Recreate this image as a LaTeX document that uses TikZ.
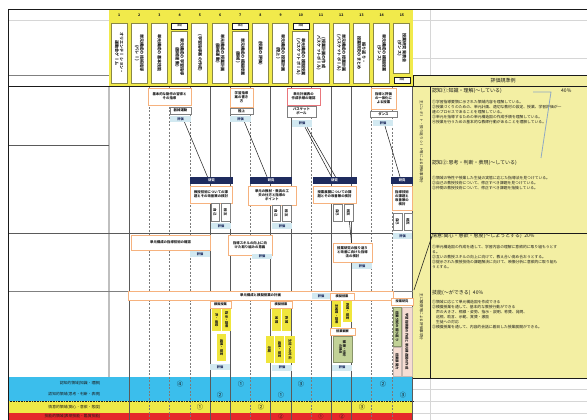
\documentclass[tikz,border=0pt]{standalone}
\usepackage{fontspec}
\setmainfont{Noto Sans CJK JP}
\newfontfamily\tatefont[Vertical=RotatedGlyphs]{Noto Sans CJK JP}
\usepackage{tikz}
\usetikzlibrary{positioning, calc}
\usepackage{xcolor}
\definecolor{hdryellow}{HTML}{F1EA4B}
\definecolor{hdrline}{HTML}{8A8845}
\definecolor{panelyellow}{HTML}{F3EFA3}
\definecolor{planorange}{HTML}{F6B27E}
\definecolor{planred}{HTML}{E9767C}
\definecolor{hyokablue}{HTML}{D2E9F1}
\definecolor{kenkyunavy}{HTML}{1E2B5E}
\definecolor{skillyellow}{HTML}{F0E63C}
\definecolor{obsgreen}{HTML}{C2D297}
\definecolor{reppink}{HTML}{F6DDD3}
\definecolor{bandcyan}{HTML}{3BBEEC}
\definecolor{bandyellow}{HTML}{EFE947}
\definecolor{bandred}{HTML}{E5282B}
\definecolor{gridgray}{HTML}{5A5A5A}
\definecolor{sheetgray}{HTML}{D6D6D6}
\definecolor{bracketblue}{HTML}{8FA8C4}
\definecolor{inkdark}{HTML}{1A1A1A}
\newcommand\fsz[2]{\fontsize{#1}{#2}\selectfont}

\begin{document}
\begin{tikzpicture}[
  x=1pt, y=-1pt,
  hdr/.style={
    draw=hdrline, fill=white, line width=0.9pt, rotate=-90,
    minimum height=16pt, inner sep=0.3pt, align=center,
    font=\tatefont\fsz{4.1}{4.8}\bfseries, text=inkdark
  },
  hnum/.style={font=\fsz{3.5}{4}\bfseries, text=inkdark},
  htag/.style={
    draw=inkdark, fill=white, line width=0.5pt,
    minimum width=16pt, minimum height=6pt, inner sep=0pt,
    font=\fsz{2.4}{2.6}
  },
  plan/.style={
    draw=planorange, fill=white, line width=0.7pt, inner sep=0.5pt,
    align=center, font=\fsz{3.4}{4.1}\bfseries, text=inkdark
  },
  task/.style={
    draw=gray, fill=white, line width=0.6pt, inner sep=0pt,
    align=center, font=\fsz{3.4}{3.9}\bfseries, text=inkdark
  },
  hyoka/.style={
    fill=hyokablue, minimum height=6pt, inner sep=0pt,
    font=\fsz{3.2}{3.2}\bfseries, text=kenkyunavy
  },
  kenkyu/.style={
    fill=kenkyunavy, minimum height=7pt, inner sep=0pt,
    font=\fsz{3.2}{3.2}\bfseries, text=white
  },
  pair/.style={
    draw=gray, fill=white, line width=0.6pt, rotate=-90, inner sep=0pt,
    align=center, font=\tatefont\fsz{3.4}{3.8}\bfseries, text=inkdark
  },
  mogi/.style={
    draw=planorange, fill=white, line width=0.7pt,
    minimum height=7pt, inner sep=0pt,
    font=\fsz{3.2}{3.2}\bfseries, text=inkdark
  },
  skill/.style={
    fill=skillyellow, rotate=-90, inner sep=0pt, align=center,
    font=\tatefont\fsz{3.3}{3.8}\bfseries, text=inkdark
  },
  obs/.style={
    fill=obsgreen, draw=obsgreen!70!black, line width=0.3pt, rotate=-90,
    inner sep=0pt, align=center,
    font=\tatefont\fsz{3.3}{3.8}\bfseries, text=inkdark
  },
  rep/.style={
    fill=reppink, draw=reppink!60!gray, line width=0.3pt, rotate=-90,
    inner sep=0pt, align=center,
    font=\tatefont\fsz{3.3}{3.8}\bfseries, text=inkdark
  },
  side/.style={rotate=-90, font=\tatefont\fsz{3.6}{4}, text=inkdark},
  lbl/.style={anchor=east, font=\fsz{3.8}{4}, text=inkdark},
  circ/.style={font=\fsz{6.2}{6.2}, text=inkdark, inner sep=0pt},
  crit/.style={anchor=west, inner sep=0pt, font=\fsz{5}{5}, text=inkdark},
  critbody/.style={
    anchor=north west, inner sep=0pt, align=left,
    font=\fsz{3.8}{4.9}, text=inkdark
  },
  lnk/.style={draw=inkdark, line width=0.5pt},
  solidline/.style={draw=gridgray, line width=0.5pt},
  dashline/.style={draw=gridgray!80, line width=0.5pt, dash pattern=on 2pt off 1.5pt},
  sheet/.style={draw=sheetgray, line width=0.5pt}
]
\useasboundingbox (0,0) rectangle (587,420);
\clip (0,0) rectangle (587,420);

\fill[white] (0,0) rectangle (587,420);
\fill[hdryellow] (109,9) rectangle (413,86);
\fill[panelyellow] (413,75) rectangle (587,378);
\fill[bandcyan] (8,377) rectangle (413,401);
\fill[bandyellow] (8,401) rectangle (413,413);
\fill[bandred] (8,413) rectangle (413,420);

\draw[sheet] (8,20) -- (109,20);
\draw[draw=gray, line width=0.8pt] (8,75) -- (109,75);
\draw[sheet] (430,9) -- (430,75);
\draw[sheet] (413,20) -- (587,20);
\draw[sheet] (413,58) -- (587,58);
\draw[sheet] (413,389) -- (587,389);
\draw[sheet] (413,401) -- (587,401);
\draw[sheet] (413,413) -- (587,413);
\draw[sheet] (430,378) -- (430,420);

\draw[solidline] (129.2,86) -- (129.2,420);
\draw[dashline] (149.4,86) -- (149.4,420);
\draw[dashline] (169.6,86) -- (169.6,420);
\draw[dashline] (189.8,86) -- (189.8,420);
\draw[solidline] (210,86) -- (210,420);
\draw[solidline] (230.2,86) -- (230.2,420);
\draw[dashline] (250.4,86) -- (250.4,420);
\draw[solidline] (270.6,86) -- (270.6,420);
\draw[solidline] (290.8,86) -- (290.8,420);
\draw[dashline] (311,86) -- (311,420);
\draw[solidline] (331.2,86) -- (331.2,420);
\draw[solidline] (351.4,86) -- (351.4,420);
\draw[dashline] (371.6,86) -- (371.6,420);
\draw[dashline] (391.8,86) -- (391.8,420);
\draw[solidline] (412.6,86) -- (412.6,420);
\draw[draw=gray!50, line width=1.2pt] (109,86) -- (109,377);

\draw[solidline] (8,145) -- (109,145);
\draw[solidline] (8,233) -- (413,233);
\draw[draw=gray, line width=0.5pt] (8,291) -- (413,291);
\draw[inkdark, densely dotted, line width=0.6pt] (8,401) -- (413,401);

\draw[inkdark, line width=0.6pt] (430,86) -- (430,378);
\draw[inkdark, line width=0.6pt] (430,233) -- (587,233);
\draw[inkdark, line width=0.6pt] (413,378) -- (587,378);
\draw[inkdark, line width=0.6pt] (413,75) rectangle (587,86);
\draw[inkdark, line width=0.8pt] (8,86) -- (587,86);
\draw[inkdark, line width=0.8pt] (8,9) -- (587,9);
\draw[inkdark, line width=0.8pt] (8,9) -- (8,420);

\node[hnum] (n1) at (119.1,15.5) {1};
\node[hnum] (n2) at (139.3,15.5) {2};
\node[hnum] (n3) at (159.5,15.5) {3};
\node[hnum] (n4) at (179.7,15.5) {4};
\node[hnum] (n5) at (199.9,15.5) {5};
\node[hnum] (n6) at (220.1,15.5) {6};
\node[hnum] (n7) at (240.3,15.5) {7};
\node[hnum] (n8) at (260.5,15.5) {8};
\node[hnum] (n9) at (280.7,15.5) {9};
\node[hnum] (n10) at (300.9,15.5) {10};
\node[hnum] (n11) at (321.1,15.5) {11};
\node[hnum] (n12) at (341.3,15.5) {12};
\node[hnum] (n13) at (361.5,15.5) {13};
\node[hnum] (n14) at (381.7,15.5) {14};
\node[hnum] (n15) at (401.9,15.5) {15};

\node[hdr, minimum width=60pt] (h1) at (119.1,53) {オリエンテーション・\\運動会ゲーム};
\node[hdr, minimum width=60pt] (h2) at (139.3,53) {単元構成の技術指導\\(バレー)};
\node[hdr, minimum width=60pt] (h3) at (159.5,53) {単元構成の基本技能};
\node[htag] (t4) at (179.7,26) {課題};
\node[hdr, minimum width=52pt] (h4) at (179.7,57) {単元構成の学習指導\\(器械運動)};
\node[hdr, minimum width=60pt] (h5) at (199.9,53) {(学習指導案の作成)};
\node[hdr, minimum width=60pt] (h6) at (220.1,53) {単元構成の授業計画\\(器械運動)};
\node[htag] (t7) at (240.3,26) {課題};
\node[hdr, minimum width=52pt] (h7) at (240.3,57) {単元構成の模擬授業\\(器械)};
\node[hdr, minimum width=60pt] (h8) at (260.5,53) {(授業の評価)};
\node[hdr, minimum width=60pt] (h9) at (280.7,53) {単元構成の授業計画\\(陸上)};
\node[htag] (t10) at (300.9,26) {課題};
\node[hdr, minimum width=52pt] (h10) at (300.9,57) {単元構成の模擬授業\\(バスケットボール)};
\node[hdr, minimum width=60pt] (h11) at (321.1,53) {(授業計画の作成\\バスケットボール)};
\node[hdr, minimum width=60pt] (h12) at (341.3,53) {単元構成の授業計画\\(バスケットボール)};
\node[hdr, minimum width=60pt] (h13) at (361.5,53) {振り返り・\\授業研究のまとめ};
\node[hdr, minimum width=60pt] (h14) at (381.7,53) {単元構成の模擬授業\\(ダンス)};
\node[hdr, minimum width=50pt] (h15) at (401.9,48) {授業研究発表会\\(ダンス)};
\node[htag] (t15) at (401.9,80) {課題};

\node[font=\fsz{5}{5}, text=inkdark] (crittitle) at (503,80.5) {評価規準例};

\node[plan, minimum width=43pt, minimum height=17pt] (a1) at (169.5,96.5) {基本的な動作の習得と\\その指導};
\node[task, minimum width=21pt, minimum height=7pt] (g1) at (180.5,110.5) {器械運動};
\node[hyoka, minimum width=21pt] (e1) at (180.5,119) {評価};
\node[plan, minimum width=23pt, minimum height=19pt] (a2) at (241.5,97.5) {学習指導\\案の書き\\方};
\node[task, minimum width=23pt, minimum height=6pt] (g2) at (241.5,111) {陸上};
\node[hyoka, minimum width=21pt] (e2) at (240.5,119) {評価};
\node[plan, draw=planred, minimum width=33pt, minimum height=17pt] (a3) at (303.5,96.5) {単元計画表の\\作成手順の確認};
\node[task, minimum width=29pt, minimum height=11pt] (g3) at (301.5,111.5) {バスケット\\ボール};
\node[hyoka, minimum width=20pt, minimum height=7pt] (e3) at (302,123.5) {評価};
\node[plan, minimum width=25pt, minimum height=21pt] (a4) at (383.5,98.5) {指導と評価\\の一体化に\\よる授業};
\node[task, minimum width=27pt, minimum height=6pt] (g4) at (383.5,114) {ダンス};
\node[hyoka, minimum width=20pt] (e4) at (383,123) {評価};

\node[kenkyu, minimum width=43pt] (b1) at (211.5,180.5) {研究};
\node[kenkyu, minimum width=42pt] (b2) at (271,180.5) {研究};
\node[kenkyu, minimum width=44pt] (b3) at (334.5,180.5) {研究};
\node[kenkyu, minimum width=22pt] (b4) at (402,180.5) {研究};

\node[plan, minimum width=42pt, minimum height=17pt] (r1) at (211,194.5) {教授技術についての課\\題とその改善策の検討};
\node[plan, minimum width=48pt, minimum height=19pt] (r2) at (272,195.5) {単元の教材・教具の工\\夫の仕方と指導の\\ポイント};
\node[plan, minimum width=43pt, minimum height=17pt] (r3) at (334.5,194.5) {授業展開についての課\\題とその改善策の検討};
\node[plan, minimum width=20pt, minimum height=24pt] (r4) at (402,198) {指導技術\\の課題と\\改善策の\\検討};

\node[pair, minimum width=18pt, minimum height=8pt] (s1a) at (215,212) {自己};
\node[pair, minimum width=18pt, minimum height=9pt] (s1b) at (225.5,212) {相互};
\node[pair, minimum width=16pt, minimum height=8pt] (s2a) at (276,213) {自己};
\node[pair, minimum width=16pt, minimum height=9pt] (s2b) at (286.5,213) {相互};
\node[pair, minimum width=17pt, minimum height=9pt] (s3a) at (337.5,212.5) {自己};
\node[pair, minimum width=17pt, minimum height=9pt] (s3b) at (348.5,212.5) {相互};
\node[pair, minimum width=17pt, minimum height=9pt] (s4a) at (397.5,221.5) {自己};
\node[pair, minimum width=17pt, minimum height=8pt] (s4b) at (408,221.5) {相互};

\node[hyoka, minimum width=20pt] (f1) at (221,226) {評価};
\node[hyoka, minimum width=20pt] (f2) at (282,226) {評価};
\node[hyoka, minimum width=19pt] (f4) at (402.5,236) {評価};

\node[plan, minimum width=79pt, minimum height=15pt] (p1) at (170.5,242.5) {単元構成の指導技術の確認};
\node[hyoka, minimum width=20pt] (q1) at (200,254) {評価};
\node[plan, minimum width=44pt, minimum height=20pt] (p2) at (250,245) {指導スキルの向上に向\\けた取り組みの意義};
\node[hyoka, minimum width=20pt, minimum height=5pt] (q2) at (262,256.5) {評価};
\node[plan, minimum width=39pt, minimum height=19pt] (p3) at (352.5,252.5) {授業研究の振り返り\\と改善に向けた指導\\法の検討};
\node[hyoka, minimum width=20pt] (q3) at (362,266) {評価};

\node[plan, minimum width=265pt, minimum height=9pt] (t0) at (260.5,295.5) {単元構成と模擬授業の計画};
\node[hyoka, minimum width=18pt] (q4) at (321,296) {評価};

\node[mogi, minimum width=21pt] (m1) at (220.5,304.5) {模擬授業};
\node[skill, minimum width=22pt, minimum height=9pt] (y1a) at (216.5,320) {声・姿勢};
\node[skill, minimum width=22pt, minimum height=9pt] (y1b) at (226.5,320) {指示・説明};
\node[skill, minimum width=27pt, minimum height=9pt] (y1c) at (221.5,347.5) {巡視・助言};
\node[hyoka, minimum width=20pt] (q5) at (220,367) {評価};

\node[mogi, minimum width=22pt] (m2) at (281,304.5) {模擬授業};
\node[skill, minimum width=22pt, minimum height=9pt] (y2a) at (276.5,320) {発問};
\node[skill, minimum width=22pt, minimum height=9pt] (y2b) at (286.5,320) {称賛};
\node[skill, minimum width=27pt, minimum height=8pt] (y2c) at (269.5,349.5) {示範};
\node[skill, minimum width=27pt, minimum height=9pt] (y2d) at (279.5,349.5) {巡視・助言};
\node[skill, minimum width=27pt, minimum height=10pt] (y2e) at (290,349.5) {生徒への対応};
\node[hyoka, minimum width=20pt] (q6) at (282,367.5) {評価};

\node[mogi, minimum width=24pt] (m3) at (342,296.5) {模擬授業};
\node[skill, minimum width=26pt, minimum height=9pt] (y3a) at (336.5,314) {主発問・説明};
\node[skill, minimum width=21pt, minimum height=9pt] (y3b) at (347.5,311.5) {称賛・助言};
\node[mogi, minimum width=25pt] (k1) at (342.5,331.5) {授業観察};
\node[obs, minimum width=26pt, minimum height=19pt] (gr1) at (342.5,349) {観察・分析\\の視点};
\node[hyoka, minimum width=20pt] (q7) at (342,367.5) {評価};

\node[mogi, minimum width=22pt] (k2) at (402,301.5) {授業研究};
\node[obs, minimum width=39pt, minimum height=8pt] (gr2) at (397,326.5) {授業分析の振り返り};
\node[rep, minimum width=69pt, minimum height=10pt] (pk1) at (407,341.5) {学習指導案の作成と単元構造図の作成};
\node[rep, minimum width=29pt, minimum height=8pt] (pk2) at (397,361.5) {授業展開力};

\draw[lnk] ($(e1.south)+(4,0)$) -- ($(b1.north)+(-4,0)$);
\draw[lnk] ($(e2.south)+(4,0)$) -- ($(b2.north)+(-4,0)$);
\draw[lnk] ($(e3.south)+(3,0)$) -- ($(b3.north)+(-3,0)$);
\draw[lnk] ($(e3.south)+(5,0)$) -- ($(b3.north)+(1,0)$);
\draw[lnk] ($(e4.south)+(2,0)$) -- ($(b4.north)+(-2,0)$);
\draw[lnk] (s3b) -- (p3);

\node[side] (v1) at (421.5,142) {主にレポート・振り返りシート等による評価事項分};
\node[side] (v2) at (421.5,317) {主に観察等による評価事項分};

\node[crit] (k1h) at (432,91) {認知①:知識・理解(〜している)};
\node[crit] (k1p) at (561,91) {40\%};
\node[critbody] (k1b) at (432,100.5) {①学習指導要領に示された領域内容を理解している。\\②授業づくりのための、単元計画、適切な教材の設定、授業、学習評価が一\\連のプロセスであることを理解している。\\③単元を指導するための単元構造図の作成手順を理解している。\\④授業を行うための基本的な教師行動があることを理解している。};
\node[crit] (k2h) at (432,163) {認知②:思考・判断・表現(〜している)};
\node[critbody] (k2b) at (432,176.5) {①領域の特性や授業した生徒の実態に応じた指導法を見つけている。\\②自己の教授技術について、修正すべき課題を見つけている。\\③仲間の教授技術について、修正すべき課題を指摘している。};
\node[crit] (k3h) at (432,236) {情意:関心・意欲・態度(〜しようとする)\enspace 20\%};
\node[critbody] (k3b) at (432,245.5) {①単元構造図の作成を通して、学習内容の理解に意欲的に取り組もうとす\\る。\\②互いの教授スキルの向上に向けて、教え合い高め合おうとする。\\③提示された教授技術の課題解決に向けて、映像分析に意欲的に取り組も\\うとする。};
\node[crit] (k4h) at (432,293) {技能(〜ができる)\enspace 40\%};
\node[critbody] (k4b) at (432,300.5) {①領域に応じて単元構造図を作成できる\\②模擬授業を通して、基本的な教授行動ができる\\\quad 声の大きさ、視線・姿勢、指示・説明、称賛、発問、\\\quad 巡視、助言、示範、賞賛・激励\\\quad 生徒への対応\\③模擬授業を通して、内容的会話に着目した授業展開ができる。};

\coordinate (bk1) at (533,92);
\coordinate (bk2) at (551,92);
\coordinate (bk3) at (541,158);
\draw[bracketblue, line width=0.8pt] (bk1) -- (bk2) -- (bk3);
\coordinate (dg1) at (432,236);
\coordinate (dg2) at (414,290);
\draw[inkdark, line width=0.6pt] (dg1) -- (dg2);

\node[lbl] (l1) at (104,383.5) {認知的領域(知識・理解)};
\node[lbl] (l2) at (104,394.5) {認知的領域(思考・判断・表現)};
\node[lbl] (l3) at (104,407) {情意的領域(関心・意欲・態度)};
\node[lbl] (l4) at (104,416.6) {技能的領域(表現技能・鑑賞技能)};

\node[circ] (c1) at (180,384) {④};
\node[circ] (c2) at (241,384) {①};
\node[circ] (c3) at (301,384) {③};
\node[circ] (c4) at (383,384) {②};
\node[circ] (c5) at (220,395) {②};
\node[circ] (c6) at (281,395) {①};
\node[circ] (c7) at (403,395) {③};
\node[circ] (c8) at (200,407) {①};
\node[circ] (c9) at (261,407) {②};
\node[circ] (c10) at (362,407) {③};
\node[circ, font=\fsz{5.2}{5.2}] (c11) at (281,416.6) {②};
\node[circ, font=\fsz{5.2}{5.2}] (c12) at (321,416.6) {①};
\node[circ, font=\fsz{5.2}{5.2}] (c13) at (342,416.6) {②};
\end{tikzpicture}
\end{document}
